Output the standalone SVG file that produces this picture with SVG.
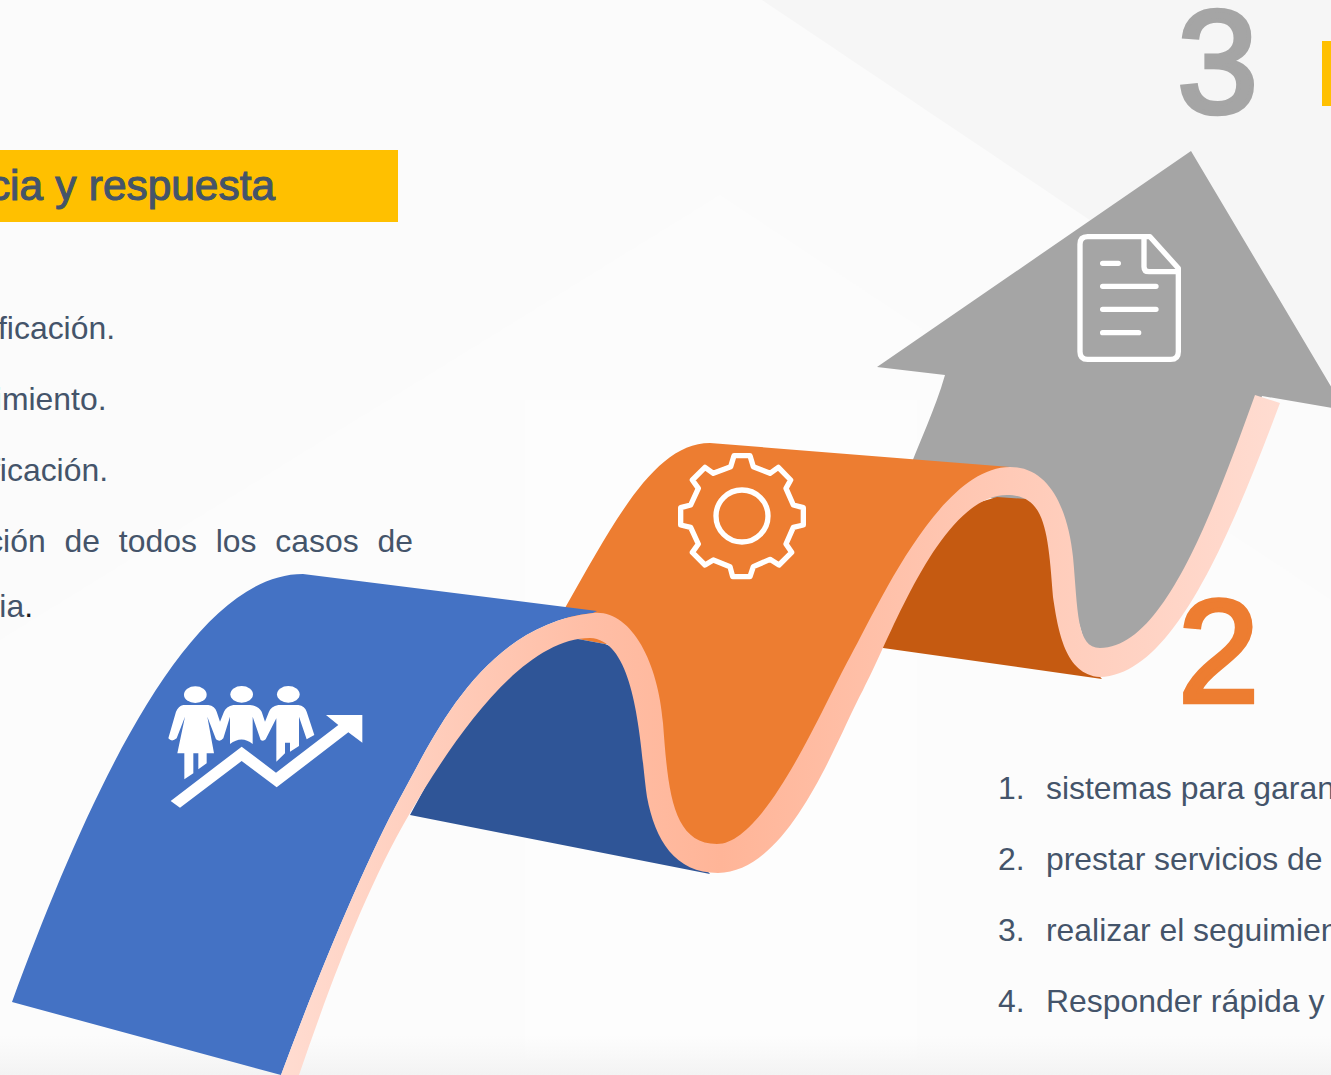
<svg xmlns="http://www.w3.org/2000/svg" width="1331" height="1075" viewBox="0 0 1331 1075">
<style>
.t{font-family:"Liberation Sans",Arial,sans-serif;font-size:31.9px;fill:#44546a}
.big{font-family:"Liberation Sans",Arial,sans-serif;font-size:146px;stroke-width:4.5px}
.w{fill:#fff}
.ln{fill:none;stroke:#fff;stroke-linejoin:round;stroke-linecap:round}
</style>
<defs>
<linearGradient id="band" gradientUnits="userSpaceOnUse" x1="281" y1="0" x2="1280" y2="0">
<stop offset="0" stop-color="#ffdcd1"/><stop offset="0.3" stop-color="#ffbfa7"/><stop offset="0.44" stop-color="#ffb598"/><stop offset="0.73" stop-color="#ffcab7"/><stop offset="1" stop-color="#ffdcd1"/>
</linearGradient>
<linearGradient id="foot" x1="0" y1="0" x2="0" y2="1"><stop offset="0" stop-color="#f5f5f5" stop-opacity="0"/><stop offset="1" stop-color="#f3f3f3"/></linearGradient>
</defs>
<g id="background">
<rect width="1331" height="1075" fill="#fbfbfb"/>
<polygon points="762,0 1331,0 1331,382" fill="#f6f6f6"/>
<polygon points="0,640 720,195 1331,600 1331,1075 0,1075" fill="#fcfcfc"/>
<rect x="525" y="400" width="392" height="660" fill="#fdfdfd"/>
<rect y="1035" width="1331" height="40" fill="url(#foot)"/>
</g>
<g id="step3">
<path fill="#a5a5a5" d="M1191,151 L877,367 L945,375 C935,410 920,440 905,480 L1000,500 L1028,500 L1060,560 L1090,660 L1100,662 L1148,638 L1191,578 L1230,494 L1262,396 L1345,410 Z"/>
<g id="doc-icon" transform="translate(1060 220) scale(.33333)">
<path class="ln" stroke-width="16" d="M83,50 L270,50 L355,145 L355,395 Q355,418 332,418 L83,418 Q60,418 60,395 L60,73 Q60,50 83,50 Z"/>
<path class="ln" stroke-width="16" d="M252,50 L252,140 Q252,155 267,155 L355,155 M128,130 L175,130 M128,199 L288,199 M128,268 L288,268 M128,338 L236,338"/>
</g>
</g>
<g id="step2">
<polygon fill="#c55a11" points="883,648 1102,679 1080,655 1066,620 1058,560 1040,510 1027,499 997,497 970,505 935,530 875,625"/>
<path fill="#ed7d31" d="M565,608 C615,520 655,443 710,443 L1010,467 L1010,480 L955,508 L900,590 L850,680 L790,800 L720,860 L690,845 L665,815 L655,760 L650,700 L625,645 L605,644 L567,637 Z"/>
<g id="gear-icon" transform="translate(660 440) scale(.33333)">
<path class="ln" stroke-width="16" d="M222,47 L270,47 L280,80 L330,100 L355,82 L392,120 L378,145 L400,195 L430,203 L430,255 L400,262 L378,312 L395,337 L357,375 L330,358 L280,380 L270,410 L218,410 L210,380 L160,360 L135,375 L97,337 L115,312 L92,262 L62,255 L62,203 L92,195 L115,145 L97,120 L135,82 L160,100 L212,80 Z"/>
<circle class="ln" stroke-width="16" cx="246" cy="228" r="78"/>
</g>
</g>
<g id="step1">
<polygon fill="#2f5597" points="410,815 467,710 517,650 567,637 605,644 620,650 645,690 655,790 690,850 710,874"/>
<path fill="#4472c4" d="M12,1002 C90,790 190,574 303,574 L597,611 L593,613 C480,625 430,745 400,798 C367,858 320,970 281,1075 Z"/>
<g id="people-icon" transform="translate(150 670) scale(.33333)">
<ellipse class="w" cx="136" cy="74" rx="34" ry="25"/><ellipse class="w" cx="275" cy="73" rx="34" ry="25"/><ellipse class="w" cx="415" cy="73" rx="34" ry="25"/>
<path class="w" d="M100,105 L175,105 Q195,108 200,125 L210,155 L222,125 Q228,110 250,105 L300,105 Q325,108 335,125 L345,155 L357,125 Q362,110 385,105 L445,105 Q465,108 470,125 L493,195 L470,208 L447,140 L447,228 L420,245 L420,218 L405,218 L405,250 L379,275 L379,145 L347,208 Q340,215 332,210 L308,140 L308,222 Q275,195 240,222 L240,140 L220,205 Q210,218 198,208 L172,140 L192,250 L170,250 L170,280 L145,298 L145,250 L130,250 L130,310 L103,328 L103,250 L82,250 L105,140 L80,205 Q65,218 55,205 L78,125 Q85,108 100,105 Z"/>
<polygon class="w" points="62,393 275,230 378,308 565,165 528,135 637,135 637,218 595,187 380,352 275,273 90,413"/>
</g>
</g>
<g id="connectors">
<path fill="url(#band)" d="M281,1075 C320,970 367,858 400,798 C430,745 480,625 593,613 C630,609 658,660 663,723 C668,790 672,844 717,844 C765,844 822,708 850,657 C878,606 940,467 1010,467 C1050,467 1068,510 1073,557 C1078,610 1076,648 1100,648 C1165,648 1215,505 1255,395 L1280,403 C1225,550 1170,675 1100,677 C1065,675 1058,630 1053,597 C1048,530 1045,495 1007,495 C940,495 890,640 863,690 C836,740 790,872 718,873 C675,873 655,840 647,797 C640,750 638,640 590,638 C520,638 450,745 410,813 C365,890 330,985 299,1075 Z"/>
</g>
<g id="labels">
<rect x="0" y="150" width="398" height="72" fill="#ffc000"/>
<rect x="1322" y="41" width="9" height="65" fill="#ffc000"/>
<text x="275" y="200" text-anchor="end" font-family="Liberation Sans,Arial,sans-serif" font-size="42.4" word-spacing="0.5" fill="#44546a" stroke="#44546a" stroke-width="1.1">cia y respuesta</text>
<text class="big" x="1177" y="113" fill="#a5a5a5" stroke="#a5a5a5">3</text>
<text class="big" x="1178" y="702" fill="#ed7d31" stroke="#ed7d31">2</text>
<text class="t" x="115" y="339" text-anchor="end">ficación.</text>
<text class="t" x="106.5" y="410" text-anchor="end">imiento.</text>
<text class="t" x="108" y="481" text-anchor="end">ficación.</text>
<text class="t" x="413" y="552" text-anchor="end" word-spacing="10">ción de todos los casos de</text>
<text class="t" x="33" y="617" text-anchor="end">ia<tspan fill="#1a1a1a">.</tspan></text>
<text class="t" x="998" y="799">1.</text><text class="t" x="1046" y="799">sistemas para garan</text>
<text class="t" x="998" y="870">2.</text><text class="t" x="1046" y="870">prestar servicios de</text>
<text class="t" x="998" y="941">3.</text><text class="t" x="1046" y="941">realizar el seguimien</text>
<text class="t" x="998" y="1012">4.</text><text class="t" x="1046" y="1012">Responder rápida y</text>
</g>
</svg>
